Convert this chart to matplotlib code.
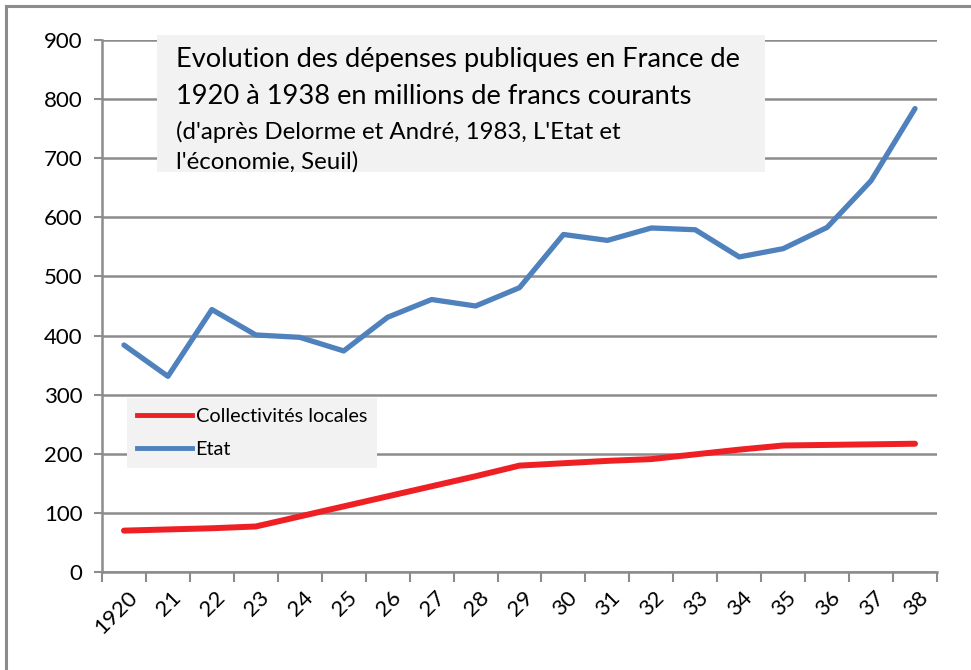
import matplotlib
matplotlib.use('Agg')
import matplotlib.pyplot as plt
from matplotlib.patches import Rectangle
from matplotlib.lines import Line2D
from matplotlib.transforms import ScaledTranslation

years = ['1920', '21', '22', '23', '24', '25', '26', '27', '28', '29',
         '30', '31', '32', '33', '34', '35', '36', '37', '38']
etat = [384, 331, 444, 401, 397, 374, 431, 461, 450, 481,
        571, 561, 582, 579, 533, 547, 583, 662, 784]
collectivites = [70, 72, 74, 77, 94, 111, 128, 145, 162, 180,
                 184, 188, 191, 199, 207, 214, 215, 216, 217]
yticks = [0, 100, 200, 300, 400, 500, 600, 700, 800, 900]

title_lines = ["Evolution des dépenses publiques en France de",
               "1920 à 1938 en millions de francs courants"]
source_lines = ["(d'après Delorme et André, 1983, L'Etat et",
                "l'économie, Seuil)"]

FONT = ['Lato', 'DejaVu Sans']
plt.rcParams['font.family'] = FONT

W, H = 971, 670
fig = plt.figure(figsize=(W / 100, H / 100), dpi=100)
fig.patch.set_facecolor('white')

def fx(px):
    return px / W

def fy(py):
    return 1 - py / H

GRAY = '#8c8c8c'
BLUE = '#4f81bd'
RED = '#ee2024'

# outer chart border (top and left visible)
fig.add_artist(Line2D([fx(6), 1.0], [fy(6), fy(6)], color=GRAY, lw=2.2))
fig.add_artist(Line2D([fx(6), fx(6)], [fy(6), 0.0], color=GRAY, lw=2.2))

ax = fig.add_axes([fx(102), fy(572), fx(937) - fx(102), fy(40) - fy(572)])
x = list(range(len(years)))
ax.plot(x, etat, color=BLUE, lw=3.8, solid_capstyle='round', zorder=3)
ax.plot(x, collectivites, color=RED, lw=4.3, solid_capstyle='round', zorder=3)

ax.set_xlim(-0.5, len(years) - 0.5)
ax.set_ylim(0, 900)
ax.set_yticks(yticks)
ax.set_yticklabels([str(v) for v in yticks], fontsize=16)
ax.yaxis.grid(True, color=GRAY, lw=1.8)
ax.set_axisbelow(True)
ax.tick_params(axis='y', length=6, width=1.5, color=GRAY, pad=8)

ax.set_xticks([i - 0.5 for i in range(len(years) + 1)])
ax.set_xticklabels([])
ax.tick_params(axis='x', which='major', length=7, width=1.5, color=GRAY)
ax.set_xticks(x, minor=True)
ax.set_xticklabels(years, minor=True, rotation=45, ha='right',
                   rotation_mode='anchor', fontsize=16)
ax.tick_params(axis='x', which='minor', length=0, pad=11)
offset = ScaledTranslation(3 / 100, 0, fig.dpi_scale_trans)
for lbl in ax.get_xticklabels(minor=True):
    lbl.set_transform(lbl.get_transform() + offset)

for s in ['top', 'right']:
    ax.spines[s].set_visible(False)
for s in ['left', 'bottom']:
    ax.spines[s].set_color(GRAY)
    ax.spines[s].set_linewidth(1.8)

# title box
fig.add_artist(Rectangle((fx(157), fy(172)), fx(765) - fx(157), fy(35) - fy(172),
                         facecolor='#f2f2f2', edgecolor='none', zorder=5))
fig.text(fx(176), fy(60), title_lines[0], fontsize=19.6, va='center', zorder=6)
fig.text(fx(176), fy(97), title_lines[1], fontsize=19.6, va='center', zorder=6)
fig.text(fx(176), fy(132), source_lines[0], fontsize=17.3, va='center', zorder=6)
fig.text(fx(176), fy(162), source_lines[1], fontsize=17.3, va='center', zorder=6)

# legend
handles = [Line2D([], [], color=RED, lw=3.5), Line2D([], [], color=BLUE, lw=3.5)]
leg = fig.legend(handles, ['Collectivités locales', 'Etat'],
                 loc='upper left', bbox_to_anchor=(fx(127), fy(398)),
                 frameon=True, fancybox=False, fontsize=14.3,
                 handlelength=2.75, handletextpad=0.2, labelspacing=0.8,
                 borderpad=0.5, borderaxespad=0)
leg.get_frame().set_facecolor('#f2f2f2')
leg.get_frame().set_edgecolor('none')
leg.get_frame().set_alpha(1)

fig.savefig('out.png', dpi=100)
